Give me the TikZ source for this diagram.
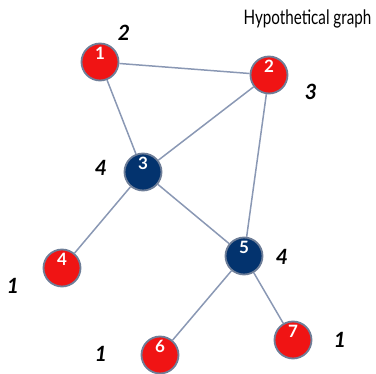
\documentclass[tikz,border=0pt]{standalone}
\usepackage{fontspec}
\setmainfont{Lato}
\definecolor{hubred}{HTML}{F01414}
\definecolor{hubnavy}{HTML}{03336E}
\definecolor{rimgray}{HTML}{6E7E98}
\definecolor{edgegray}{HTML}{8A98B4}
\begin{document}
\begin{tikzpicture}[x=1pt, y=-1pt,
    vertex/.style={circle, draw=rimgray, line width=1.8pt, minimum size=37pt, inner sep=0pt},
    redv/.style={vertex, fill=hubred},
    navyv/.style={vertex, fill=hubnavy},
    num/.style={label={[text=white, font=\fontsize{17}{17}\selectfont\bfseries, anchor=north, inner sep=1pt, label distance=-3pt]90:#1}},
    deg/.style={font=\fontsize{21}{21}\selectfont\itshape\bfseries},
    edge/.style={draw=edgegray, line width=1.5pt}]
    \useasboundingbox (0,0) rectangle (376,374);

    % 标题
    \node[font=\fontsize{20}{20}\selectfont, anchor=east, xscale=0.76, transform shape] (title) at (374,19) {Hypothetical graph};

    % 顶点
    \node[redv, num=1]  (v1) at (100,62)  {};
    \node[redv, num=2]  (v2) at (269,75)  {};
    \node[navyv, num=3] (v3) at (143,172) {};
    \node[redv, num=4]  (v4) at (62,268)  {};
    \node[navyv, num=5] (v5) at (244,256) {};
    \node[redv, num=6]  (v6) at (160,355) {};
    \node[redv, num=7]  (v7) at (293,340) {};

    % 边
    \path[edge] (v1) -- (v2);
    \path[edge] (v1) -- (v3);
    \path[edge] (v2) -- (v3);
    \path[edge] (v2) -- (v5);
    \path[edge] (v3) -- (v4);
    \path[edge] (v3) -- (v5);
    \path[edge] (v5) -- (v6);
    \path[edge] (v5) -- (v7);

    % 度数
    \node[deg] (d1) at (124,33)  {2};
    \node[deg] (d2) at (311,92)  {3};
    \node[deg] (d3) at (101,168) {4};
    \node[deg] (d4) at (13,286)  {1};
    \node[deg] (d5) at (282,257) {4};
    \node[deg] (d6) at (101,354) {1};
    \node[deg] (d7) at (340,340) {1};
\end{tikzpicture}
\end{document}
